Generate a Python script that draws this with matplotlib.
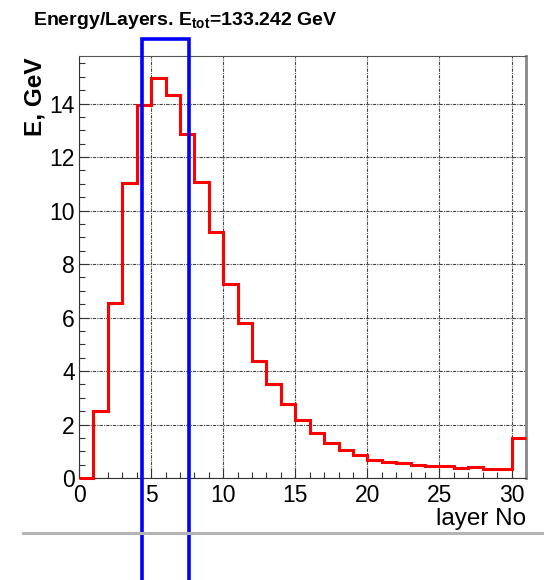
import matplotlib
matplotlib.use("Agg")
import matplotlib.pyplot as plt
from matplotlib.patches import Rectangle
from matplotlib.lines import Line2D
from matplotlib.ticker import MultipleLocator
import numpy as np

plt.rcParams["font.family"] = ["Liberation Sans", "DejaVu Sans"]
plt.rcParams["mathtext.fontset"] = "custom"
plt.rcParams["mathtext.bf"] = "Liberation Sans:bold"
plt.rcParams["mathtext.rm"] = "Liberation Sans"

# energy deposited per layer (GeV), bins of width 1 from 0 to 31
layer_edges = np.arange(0, 32)
layer_energy = [0.0, 2.50, 6.56, 11.03, 13.96, 14.97, 14.34, 12.88, 11.05, 9.19,
                7.25, 5.80, 4.38, 3.50, 2.77, 2.18, 1.68, 1.31, 1.05, 0.87,
                0.67, 0.61, 0.56, 0.50, 0.45, 0.45, 0.36, 0.40, 0.34, 0.34, 1.51]
e_tot = 133.242
# selected layer window (blue box)
window = (4.34, 7.64)

W, H = 544, 580
fig = plt.figure(figsize=(W / 100, H / 100), dpi=100)
ax = fig.add_axes([79 / W, 1 - 478 / H, (526 - 79) / W, (478 - 56) / H])

ax.stairs(layer_energy, layer_edges, baseline=None, color="red", lw=2.2,
          zorder=4, clip_on=False)

ax.set_xlim(0, 31)
ax.set_ylim(0, 15.78)
ax.xaxis.set_major_locator(MultipleLocator(5))
ax.xaxis.set_minor_locator(MultipleLocator(1))
ax.yaxis.set_major_locator(MultipleLocator(2))
ax.yaxis.set_minor_locator(MultipleLocator(0.5))
ax.tick_params(which="both", direction="in", top=False, right=False,
               labelsize=16.5, width=0.8, color="#333333")
ax.tick_params(which="major", length=7)
ax.tick_params(axis="y", which="major", pad=3)
ax.tick_params(axis="x", which="major", pad=4)
ax.tick_params(which="minor", length=4.5)
ax.grid(True, which="major", color="#444444", lw=0.8, linestyle=(0, (3, 1, 1, 1)))

ax.spines["left"].set_color("#333333")
ax.spines["bottom"].set_color("#333333")
ax.spines["top"].set_color("#555555")
ax.spines["right"].set_color("#888888")
ax.spines["right"].set_linewidth(2)

ax.set_xlabel("layer No", loc="right", fontsize=17.5, labelpad=1)

fig.text(35 / W, 1 - 58 / H, "E, GeV", rotation=90, ha="center", va="top",
         fontsize=17.5, fontweight="bold")
fig.text(33 / W, 1 - 25 / H,
         r"Energy/Layers. E$_{\mathbf{tot}}$=" + f"{e_tot:.3f} GeV",
         fontsize=14, fontweight="bold", va="baseline")

# blue window box running past the frame
ax.add_patch(Rectangle((window[0], -20), window[1] - window[0], 20 + 16.42,
                       fill=False, edgecolor="blue", lw=2.6, clip_on=False,
                       zorder=5))

fig.add_artist(Line2D([23 / W, 1], [1 - 533 / H, 1 - 533 / H],
                      color="#b4b4b4", lw=2.2))

fig.savefig("out.png", dpi=100)
